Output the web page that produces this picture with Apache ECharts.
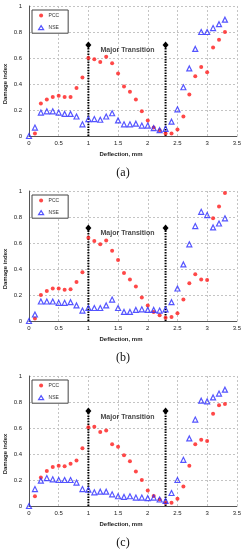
<!DOCTYPE html>
<html>
<head>
<meta charset="utf-8">
<script src="https://cdn.jsdelivr.net/npm/echarts@6/dist/echarts.min.js"></script>
<style>html,body{margin:0;padding:0;background:#fff;}#c{width:244px;height:550px;}</style>
</head>
<body>
<div id="c"></div>
<script>
const deflection = [0,0.1,0.2,0.3,0.4,0.5,0.6,0.7,0.8,0.9,1.0,1.1,1.2,1.3,1.4,1.5,1.6,1.7,1.8,1.9,2.0,2.1,2.2,2.3,2.4,2.5,2.6,2.7,2.8,2.9,3.0,3.1,3.2,3.3];
const pccA = [null,0.02,0.25,0.28,0.30,0.31,0.30,0.30,0.37,0.45,0.60,0.59,0.57,0.61,0.56,0.48,0.38,0.34,0.28,0.19,0.12,0.065,0.045,0.02,0.02,0.05,0.15,0.32,0.46,0.53,0.49,0.68,0.74,0.80];
const nseA = [0,0.065,0.18,0.19,0.19,0.18,0.17,0.17,0.15,0.09,0.13,0.13,0.125,0.15,0.175,0.12,0.09,0.09,0.095,0.08,0.08,0.06,0.045,0.055,0.11,0.205,0.375,0.52,0.67,0.80,0.80,0.83,0.86,0.895];
const pccB = [null,0.02,0.20,0.23,0.25,0.25,0.24,0.245,0.30,0.375,0.64,0.615,0.59,0.62,0.54,0.47,0.37,0.32,0.265,0.18,0.12,0.07,0.045,0.025,0.03,0.06,0.165,0.29,0.36,0.32,0.315,0.79,0.88,0.985];
const nseB = [0,0.05,0.15,0.15,0.15,0.14,0.14,0.145,0.12,0.08,0.10,0.10,0.10,0.12,0.165,0.10,0.07,0.07,0.085,0.09,0.085,0.085,0.08,0.09,0.145,0.25,0.435,0.59,0.73,0.84,0.815,0.72,0.75,0.79];
const pccC = [null,0.075,0.22,0.27,0.30,0.31,0.305,0.325,0.35,0.445,0.605,0.61,0.57,0.58,0.475,0.455,0.39,0.345,0.265,0.20,0.12,0.077,0.05,0.025,0.025,0.055,0.15,0.31,0.475,0.51,0.50,0.71,0.775,0.785];
const nseC = [0,0.13,0.195,0.215,0.205,0.20,0.20,0.20,0.18,0.13,0.125,0.105,0.11,0.11,0.09,0.075,0.07,0.075,0.065,0.065,0.06,0.065,0.05,0.04,0.10,0.20,0.355,0.52,0.665,0.81,0.805,0.835,0.865,0.895];
const transitionX = [1.0, 2.3];
const transitionTop = [0.70, 0.715, 0.73];
const noteText = 'Major Transition';
const noteX = 1.66;
const noteY = [0.66, 0.68, 0.683];
const captions = ['(a)', '(b)', '(c)'];
const xTicks = {min:0, max:3.5, interval:0.5};
const yTicks = {min:0, max:1, interval:0.2};

const panelTops = [6, 191, 376];
const panelH = 130;
const pcc = [pccA, pccB, pccC];
const nse = [nseA, nseB, nseC];
const RED = '#ff1a1a', BLUE = '#2a2aff';

const grids = [], xAxes = [], yAxes = [], series = [], legends = [], graphics = [];
panelTops.forEach((top, i) => {
  grids.push({left:29, width:210, top:top, height:panelH});
  xAxes.push({type:'value', gridIndex:i, min:xTicks.min, max:xTicks.max, interval:xTicks.interval,
    axisLine:{show:true, onZero:false, lineStyle:{color:'#555', width:1}},
    axisTick:{show:false},
    axisLabel:{fontSize:6, color:'#222', margin:4, fontFamily:'Liberation Sans'},
    splitLine:{show:true, lineStyle:{type:[2,2], color:'#c4c4c4', width:1}}});
  yAxes.push({type:'value', gridIndex:i, min:yTicks.min, max:yTicks.max, interval:yTicks.interval,
    axisLine:{show:true, lineStyle:{color:'#555', width:1}},
    axisTick:{show:false},
    axisLabel:{fontSize:6, color:'#222', margin:7, fontFamily:'Liberation Sans'},
    splitLine:{show:true, lineStyle:{type:[2,2], color:'#c4c4c4', width:1}}});
  transitionX.forEach(tx => {
    series.push({type:'line', xAxisIndex:i, yAxisIndex:i, silent:true, z:3,
      lineStyle:{color:'#000', width:2, type:[1.5,1.2]}, clip:false,
      itemStyle:{color:'#000'},
      data:[{value:[tx,0], symbol:'none'}, {value:[tx,transitionTop[i]], symbol:'diamond', symbolSize:[6,7]}]});
  });
  series.push({name:'PCC', type:'scatter', xAxisIndex:i, yAxisIndex:i, symbol:'circle', symbolSize:4, clip:false, z:4,
    itemStyle:{color:RED},
    data: deflection.map((d,k) => pcc[i][k] === null ? null : [d, pcc[i][k]]).filter(v => v !== null)});
  series.push({name:'NSE', type:'scatter', xAxisIndex:i, yAxisIndex:i, symbol:'triangle', symbolSize:5, clip:false, z:5,
    itemStyle:{color:'rgba(0,0,0,0)', borderColor:BLUE, borderWidth:1.2},
    data: deflection.map((d,k) => [d, nse[i][k]])});
  series.push({type:'scatter', xAxisIndex:i, yAxisIndex:i, symbolSize:1, silent:true, z:6,
    itemStyle:{color:'rgba(0,0,0,0)'},
    label:{show:true, position:'inside', formatter:noteText, fontSize:7, fontWeight:'bold', color:'#111', fontFamily:'Liberation Sans'},
    data:[[noteX, noteY[i]]]});
  legends.push({left:32, top:top+4, orient:'vertical', itemGap:7, itemWidth:5, itemHeight:4,
    padding:[3,9,3,6], borderColor:'#444', borderWidth:1, backgroundColor:'#fff', selectedMode:false,
    textStyle:{fontSize:5, color:'#333', fontFamily:'Liberation Sans'},
    data:[{name:'PCC', icon:'circle', itemStyle:{color:RED}},
          {name:'NSE', icon:'triangle', itemStyle:{color:'rgba(0,0,0,0)', borderColor:BLUE, borderWidth:1.2}}]});
  graphics.push({type:'text', x:5, y:top + panelH/2 + 13, rotation:Math.PI/2,
    style:{text:'Damage index', fontSize:6, fontWeight:'bold', fill:'#222', fontFamily:'Liberation Sans', align:'center', verticalAlign:'middle'}});
  graphics.push({type:'text', x:121, y:top + panelH + 18, 
    style:{text:'Deflection, mm', fontSize:6, fontWeight:'bold', fill:'#222', fontFamily:'Liberation Sans', align:'center', verticalAlign:'middle'}});
  graphics.push({type:'text', x:123, y:top + panelH + 37,
    style:{text:captions[i], fontSize:12, fill:'#111', fontFamily:'Liberation Serif', align:'center', verticalAlign:'middle'}});
});

const chart = echarts.init(document.getElementById('c'), null, {renderer:'canvas'});
chart.setOption({
  animation:false,
  backgroundColor:'#fff',
  grid:grids, xAxis:xAxes, yAxis:yAxes, series:series, legend:legends, graphic:graphics
});
</script>
</body>
</html>
